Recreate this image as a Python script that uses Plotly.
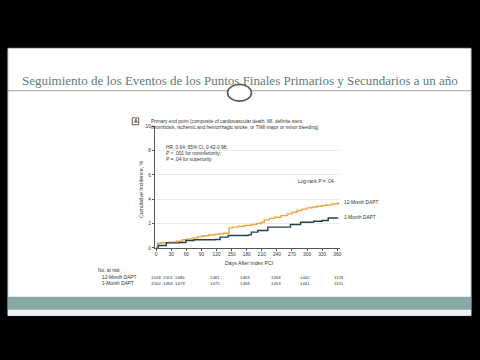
import plotly.graph_objects as go

W, H = 480, 360

# ---- data ----
days_12m = [0, 3, 10, 26, 40, 52, 62, 72, 82, 91, 104, 117, 126, 134, 145, 152, 163, 176, 189,
            200, 209, 215, 225, 235, 248, 261, 270, 280, 290, 300, 310, 320, 330, 339, 350, 362]
inc_12m = [0, 0.38, 0.42, 0.47, 0.55, 0.66, 0.74, 0.82, 0.90, 0.99, 1.05, 1.12, 1.16, 1.20, 1.64,
           1.70, 1.78, 1.85, 1.92, 2.00, 2.11, 2.30, 2.42, 2.52, 2.65, 2.79, 2.93, 3.07, 3.18, 3.29,
           3.36, 3.42, 3.48, 3.53, 3.62, 3.75]
days_1m = [0, 4, 20, 46, 59, 75, 117, 127, 143, 183, 189, 202, 222, 267, 287, 313, 330, 342, 362]
inc_1m = [0, 0.19, 0.41, 0.44, 0.60, 0.66, 0.68, 0.88, 1.01, 1.07, 1.29, 1.42, 1.70, 1.92, 2.11,
          2.19, 2.25, 2.45, 2.45]

x_ticks = [0, 30, 60, 90, 120, 150, 180, 210, 240, 270, 300, 330, 360]
y_ticks = [0, 2, 4, 6, 8, 10]

risk_days = [0, 24, 48, 117, 177, 238, 296, 364]
risk_12m = [1509, 1501, 1486, 1481, 1469, 1458, 1442, 1159]
risk_1m = [1500, 1494, 1479, 1475, 1468, 1453, 1441, 1151]

series_names = ["12-Month DAPT", "1-Month DAPT"]
colors = ["#E9A546", "#24404A"]

title_text = "Seguimiento de los Eventos de los Puntos Finales Primarios y Secundarios a un año"


def px(x):
    return x / W


def py(y):
    return 1 - y / H


SANS = "Liberation Sans Narrow, Liberation Sans, Arial, sans-serif"
FS = 4.8

fig = go.Figure()
fig.add_trace(go.Scatter(x=days_12m, y=inc_12m, mode="lines", line=dict(color=colors[0], width=1.4, shape="hv"),
                         name=series_names[0], showlegend=False, cliponaxis=False))
fig.add_trace(go.Scatter(x=days_1m, y=inc_1m, mode="lines", line=dict(color=colors[1], width=1.4, shape="hv"),
                         name=series_names[1], showlegend=False, cliponaxis=False))

shapes = []
shapes.append(dict(type="rect", xref="paper", yref="paper", x0=px(8), x1=px(472), y0=py(318), y1=py(47),
                   fillcolor="white", line=dict(color="#c8cccc", width=1), layer="below"))
shapes.append(dict(type="rect", xref="paper", yref="paper", x0=px(8), x1=px(472), y0=py(318), y1=py(312),
                   fillcolor="#eef2f2", line=dict(width=0), layer="below"))
shapes.append(dict(type="rect", xref="paper", yref="paper", x0=px(8), x1=px(472), y0=py(312), y1=py(299),
                   fillcolor="#88a8a4", line=dict(width=0), layer="below"))
shapes.append(dict(type="line", xref="paper", yref="paper", x0=px(8), x1=px(472), y0=py(90), y1=py(90),
                   line=dict(color="#9aa0a0", width=1), layer="below"))
shapes.append(dict(type="circle", xref="paper", yref="paper", x0=px(228), x1=px(252), y0=py(100.5), y1=py(83.5),
                   fillcolor="white", line=dict(color="#555555", width=1.6), layer="below"))
shapes.append(dict(type="rect", xref="paper", yref="paper", x0=px(132.5), x1=px(139), y0=py(124.5), y1=py(117.5),
                   fillcolor="white", line=dict(color="#333333", width=0.8), layer="below"))

annotations = []
annotations.append(dict(text=title_text, xref="paper", yref="paper", x=px(241), y=py(80), showarrow=False,
                        xanchor="center", yanchor="middle",
                        font=dict(family="Liberation Serif, DejaVu Serif, serif", size=13, color="#5f7a77")))
annotations.append(dict(text="<b>A</b>", xref="paper", yref="paper", x=px(135.8), y=py(121), showarrow=False,
                        xanchor="center", yanchor="middle", font=dict(family=SANS, size=5, color="#222")))
annotations.append(dict(text="Primary end point (composite of cardiovascular death, MI, definite stent<br>"
                             "thrombosis, ischemic and hemorrhagic stroke, or TIMI major or minor bleeding)",
                        xref="paper", yref="paper", x=px(149), y=py(116.5), showarrow=False, align="left",
                        xanchor="left", yanchor="top", font=dict(family=SANS, size=FS, color="#333")))
annotations.append(dict(text="HR, 0.64; 95% CI, 0.42-0.98;<br><i>P</i> < .001 for noninferiority;<br>"
                             "<i>P</i> = .04 for superiority",
                        xref="paper", yref="paper", x=px(164), y=py(143), showarrow=False, align="left",
                        xanchor="left", yanchor="top", font=dict(family=SANS, size=FS, color="#333")))
annotations.append(dict(text="Log-rank <i>P</i> = .04", xref="paper", yref="paper", x=px(297), y=py(182.5),
                        showarrow=False, xanchor="left", yanchor="middle",
                        font=dict(family=SANS, size=FS, color="#333")))
annotations.append(dict(text="Cumulative Incidence, %", xref="paper", yref="paper", x=px(142), y=py(190),
                        showarrow=False, textangle=-90, xanchor="center", yanchor="middle",
                        font=dict(family=SANS, size=5.2, color="#333")))
annotations.append(dict(text="Days After Index PCI", xref="paper", yref="paper", x=px(250), y=py(265),
                        showarrow=False, xanchor="center", yanchor="middle",
                        font=dict(family=SANS, size=5.2, color="#333")))
annotations.append(dict(text=series_names[0], xref="paper", yref="y", x=px(343), y=inc_12m[-1],
                        showarrow=False, xanchor="left", yanchor="middle",
                        font=dict(family=SANS, size=FS, color="#333")))
annotations.append(dict(text=series_names[1], xref="paper", yref="y", x=px(343), y=inc_1m[-1] + 0.05,
                        showarrow=False, xanchor="left", yanchor="middle",
                        font=dict(family=SANS, size=FS, color="#333")))
annotations.append(dict(text="No. at risk", xref="paper", yref="paper", x=px(96), y=py(272), showarrow=False,
                        xanchor="left", yanchor="middle", font=dict(family=SANS, size=FS, color="#333")))
for name, vals, yy in [(series_names[0], risk_12m, 279), (series_names[1], risk_1m, 285.5)]:
    annotations.append(dict(text=name, xref="paper", yref="paper", x=px(100), y=py(yy), showarrow=False,
                            xanchor="left", yanchor="middle", font=dict(family=SANS, size=FS, color="#333")))
    for d, v in zip(risk_days, vals):
        annotations.append(dict(text=str(v), xref="x", yref="paper", x=d, y=py(yy), showarrow=False,
                                xanchor="center", yanchor="middle",
                                font=dict(family=SANS, size=4.3, color="#333")))

fig.update_layout(
    width=W, height=H,
    margin=dict(l=0, r=0, t=0, b=0),
    paper_bgcolor="black",
    plot_bgcolor="white",
    shapes=shapes,
    annotations=annotations,
    showlegend=False,
    xaxis=dict(domain=[px(155), px(341)], range=[-3, 366], tickvals=x_ticks, ticktext=[str(t) for t in x_ticks],
               showgrid=False, zeroline=False, showline=True, linecolor="#555", linewidth=0.8,
               ticks="outside", ticklen=2, tickwidth=0.6, tickcolor="#555",
               tickfont=dict(family=SANS, size=FS, color="#333"), anchor="y"),
    yaxis=dict(domain=[py(249.3), py(126)], range=[0, 10], tickvals=y_ticks, ticktext=[str(t) for t in y_ticks],
               showgrid=True, gridcolor="#ececec", gridwidth=0.6, zeroline=False,
               showline=True, linecolor="#555", linewidth=0.8,
               ticks="outside", ticklen=2, tickwidth=0.6, tickcolor="#555",
               tickfont=dict(family=SANS, size=FS, color="#333"), anchor="x"),
)

fig.write_html("out.html", config={"displayModeBar": False},
               post_script="document.body.style.margin='0';document.body.style.background='black';")
